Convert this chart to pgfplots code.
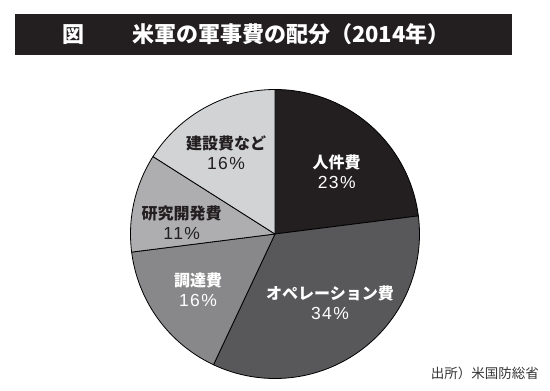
\documentclass[border=0pt]{standalone}
\usepackage{fontspec}
\setmainfont{Noto Sans CJK JP}
\newfontfamily\numfont[LetterSpace=8]{Liberation Sans}
\usepackage{pgfplots}
\pgfplotsset{compat=1.18}
\definecolor{cA}{HTML}{231F20}
\definecolor{cB}{HTML}{58585A}
\definecolor{cC}{HTML}{88888A}
\definecolor{cD}{HTML}{AEAEB0}
\definecolor{cE}{HTML}{D2D3D5}
% shares in percent
\def\pA{23}\def\pB{34}\def\pC{16}\def\pD{11}\def\pE{16}
\pgfmathsetmacro\aO{90}
\pgfmathsetmacro\aA{\aO-3.6*\pA}
\pgfmathsetmacro\aB{\aA-3.6*\pB}
\pgfmathsetmacro\aC{\aB-3.6*\pC}
\pgfmathsetmacro\aD{\aC-3.6*\pD}
\pgfmathsetmacro\aE{\aD-3.6*\pE}
\newcommand\pct[1]{{\numfont\fontsize{17.5}{20}\selectfont #1\%}}
\begin{document}
\begin{tikzpicture}[x=1pt,y=1pt]
\useasboundingbox (0,0) rectangle (550,-391);
\fill[cA] (15,-14) rectangle (512,-55);
\node[white, font=\fontsize{22}{22}\selectfont\bfseries, inner sep=0] at (73,-34.5) {図};
\node[white, font=\fontsize{22}{22}\selectfont\bfseries, anchor=west, inner sep=0] at (132,-34.5) {米軍の軍事費の配分（2014年）};
\begin{axis}[at={(275pt,-234pt)}, anchor=center, width=289pt, height=289pt,
  scale only axis, hide axis, xmin=-1, xmax=1, ymin=-1, ymax=1, clip=false]
\addplot[fill=cA, draw=black, line width=0.8pt, line join=round, domain=\aA:\aO, samples=80] ({cos(x)},{sin(x)}) -- (axis cs:0,0) -- cycle;
\addplot[fill=cB, draw=black, line width=0.8pt, line join=round, domain=\aB:\aA, samples=100] ({cos(x)},{sin(x)}) -- (axis cs:0,0) -- cycle;
\addplot[fill=cC, draw=black, line width=0.8pt, line join=round, domain=\aC:\aB, samples=60] ({cos(x)},{sin(x)}) -- (axis cs:0,0) -- cycle;
\addplot[fill=cD, draw=black, line width=0.8pt, line join=round, domain=\aD:\aC, samples=50] ({cos(x)},{sin(x)}) -- (axis cs:0,0) -- cycle;
\addplot[fill=cE, draw=black, line width=0.8pt, line join=round, domain=\aE:\aD, samples=60] ({cos(x)},{sin(x)}) -- (axis cs:0,0) -- cycle;
\end{axis}
\tikzset{lab/.style={align=center, inner sep=0, font=\fontsize{16}{20}\selectfont}}
\node[lab, white] at (336.7,-171.3) {\textbf{人件費}\\\pct{23}};
\node[lab, white] at (330,-303) {\textbf{オペレーション費}\\\pct{34}};
\node[lab, white] at (198,-290) {\textbf{調達費}\\\pct{16}};
\node[lab, cA] at (181.7,-223) {\textbf{研究開発費}\\\pct{11}};
\node[lab, cA] at (226,-153) {\textbf{建設費など}\\\pct{16}};
\node[anchor=east, inner sep=0, text=black!80, font=\fontsize{13.5}{14}\selectfont] at (539,-373) {出所）米国防総省};
\end{tikzpicture}
\end{document}
